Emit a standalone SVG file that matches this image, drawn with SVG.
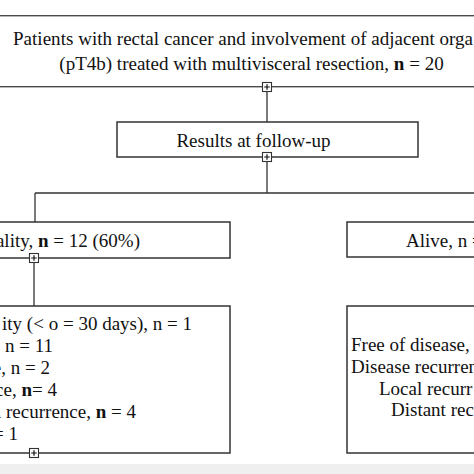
<svg xmlns="http://www.w3.org/2000/svg" width="474" height="474" viewBox="0 0 474 474">
<style>
.box{fill:#fff;stroke:#333;stroke-width:1.5}
.ln{fill:none;stroke:#333;stroke-width:1.3}
.pl{fill:#fff;stroke:#333;stroke-width:1.1}
.pc{stroke:#111;stroke-width:1.2}
text{font-family:"Liberation Serif","Times New Roman",serif;font-size:19px;fill:#111}
.b{font-weight:bold}
</style>
<defs>
<g id="plus">
<rect class="pl" x="-4.5" y="-4.5" width="9" height="9"/>
<path class="pc" d="M-2.8 0H2.8M0 -2.8V2.8"/>
</g>
</defs>
<rect x="0" y="0" width="474" height="474" fill="#fff"/>
<rect x="0" y="464" width="474" height="10" fill="#efefef"/>
<g id="connectors">
<path class="ln" d="M267 91V122M267 161V193M35 193H474M35 193V222M34 262V306"/>
</g>
<g id="top">
<rect class="box" x="-5" y="15.7" width="484" height="71" style="stroke:#4a4a4a;stroke-width:1.4"/>
<text x="13" y="45" textLength="460" lengthAdjust="spacing">Patients with rectal cancer and involvement of adjacent orga</text>
<text x="251.5" y="70" text-anchor="middle">(pT4b) treated with multivisceral resection, <tspan class="b">n</tspan> = 20</text>
<use href="#plus" x="267" y="87"/>
</g>
<g id="results">
<rect class="box" x="117" y="122" width="301" height="35"/>
<text x="253.5" y="147" text-anchor="middle">Results at follow-up</text>
<use href="#plus" x="267" y="157"/>
</g>
<g id="mortality">
<rect class="box" x="-5" y="222" width="235" height="36"/>
<text x="140" y="247" text-anchor="end">ality, <tspan class="b">n</tspan> = 12 (60%)</text>
<use href="#plus" x="34" y="258"/>
</g>
<g id="mortality-details">
<rect class="box" x="-5" y="306" width="235" height="147"/>
<text x="192" y="330" text-anchor="end">ity (&lt; o = 30 days), n = 1</text>
<text x="53" y="352" text-anchor="end">, n = 11</text>
<text x="50" y="374" text-anchor="end">e, n = 2</text>
<text x="57" y="396" text-anchor="end">ce, <tspan class="b">n</tspan>= 4</text>
<text x="136" y="418" text-anchor="end">l recurrence, <tspan class="b">n</tspan> = 4</text>
<text x="18" y="440" text-anchor="end">= 1</text>
<use href="#plus" x="34" y="453"/>
</g>
<g id="alive">
<rect class="box" x="347" y="222" width="140" height="35"/>
<text x="406" y="247">Alive, n =</text>
</g>
<g id="alive-details">
<rect class="box" x="347" y="306" width="140" height="147"/>
<text x="351" y="351">Free of disease,</text>
<text x="351" y="373">Disease recurren</text>
<text x="379" y="394.5">Local recurr</text>
<text x="391" y="416">Distant rec</text>
</g>
</svg>
